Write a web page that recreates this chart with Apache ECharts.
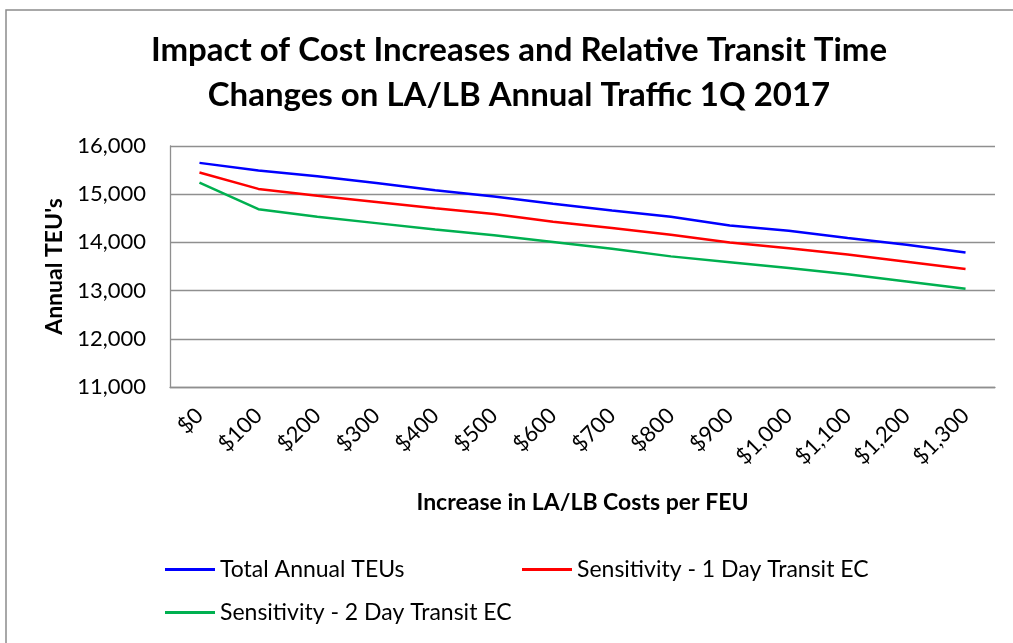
<!DOCTYPE html>
<html>
<head>
<meta charset="utf-8">
<title>Impact of Cost Increases</title>
<script src="https://cdn.jsdelivr.net/npm/echarts@6/dist/echarts.min.js"></script>
<style>
  html, body { margin: 0; padding: 0; background: #fff; }
  #chart { width: 1013px; height: 643px; }
</style>
</head>
<body>
<div id="chart"></div>
<script>
// categories - increase in LA/LB costs per FEU
const costLabels = ['$0', '$100', '$200', '$300', '$400', '$500', '$600',
  '$700', '$800', '$900', '$1,000', '$1,100', '$1,200', '$1,300'];

// annual TEU's
const totalTeus = [15650, 15490, 15370, 15230, 15080, 14950, 14800,
  14660, 14530, 14350, 14240, 14090, 13950, 13790];
const oneDayTransit = [15450, 15110, 14970, 14840, 14710, 14590, 14430,
  14300, 14160, 14000, 13880, 13750, 13600, 13450];
const twoDayTransit = [15240, 14690, 14530, 14400, 14270, 14150, 14010,
  13870, 13710, 13590, 13470, 13340, 13190, 13040];

const font = 'Lato, "Liberation Sans", sans-serif';
const gridGray = '#8f8f8f';

const myChart = echarts.init(document.getElementById('chart'));

const option = {
  backgroundColor: '#fff',
  animation: false,
  title: {
    text: 'Impact of Cost Increases and Relative Transit Time\nChanges on LA/LB Annual Traffic 1Q 2017',
    left: 514,
    textAlign: 'center',
    top: 23,
    textStyle: {
      fontFamily: font,
      fontWeight: 'bold',
      fontSize: 33,
      lineHeight: 45,
      color: '#000'
    }
  },
  // outer chart border
  graphic: [{
    type: 'rect',
    shape: { x: 6, y: 10, width: 1200, height: 800 },
    style: { fill: 'none', stroke: '#8c8c8c', lineWidth: 1.5 },
    silent: true
  }],
  legend: [
    {
      data: ['Total Annual TEUs'],
      left: 165, top: 558
    },
    {
      data: ['Sensitivity - 1 Day Transit EC'],
      left: 522, top: 558
    },
    {
      data: ['Sensitivity - 2 Day Transit EC'],
      left: 165, top: 601
    }
  ].map(l => Object.assign(l, {
    icon: 'rect',
    padding: 0,
    itemWidth: 50,
    itemHeight: 3,
    itemGap: 0,
    textStyle: { fontFamily: font, fontSize: 23, color: '#000' }
  })),
  grid: {
    left: 170,
    right: 18,
    top: 146,
    bottom: 256
  },
  xAxis: {
    type: 'category',
    data: costLabels,
    name: 'Increase in LA/LB Costs per FEU',
    nameLocation: 'middle',
    nameGap: 104,
    nameTextStyle: { fontFamily: font, fontWeight: 'bold', fontSize: 23, color: '#000' },
    axisLine: { lineStyle: { color: gridGray, width: 1.3 } },
    axisTick: { show: false },
    axisLabel: {
      rotate: 45,
      interval: 0,
      margin: 25,
      fontFamily: font,
      fontSize: 22,
      color: '#000'
    }
  },
  yAxis: {
    type: 'value',
    min: 11000,
    max: 16000,
    interval: 1000,
    name: "Annual TEU's",
    nameLocation: 'middle',
    nameRotate: 90,
    nameGap: 104,
    nameTextStyle: { fontFamily: font, fontWeight: 'bold', fontSize: 23, color: '#000' },
    axisLine: { show: true, lineStyle: { color: gridGray, width: 1.3 } },
    axisTick: { show: false },
    splitLine: { lineStyle: { color: gridGray, width: 1.3 } },
    axisLabel: {
      margin: 24,
      fontFamily: font,
      fontSize: 22,
      color: '#000',
      formatter: v => v.toLocaleString('en-US')
    }
  },
  series: [
    {
      name: 'Total Annual TEUs',
      type: 'line',
      data: totalTeus,
      color: '#0000ff',
      symbol: 'none',
      lineStyle: { width: 2.5 }
    },
    {
      name: 'Sensitivity - 1 Day Transit EC',
      type: 'line',
      data: oneDayTransit,
      color: '#ff0000',
      symbol: 'none',
      lineStyle: { width: 2.5 }
    },
    {
      name: 'Sensitivity - 2 Day Transit EC',
      type: 'line',
      data: twoDayTransit,
      color: '#00b050',
      symbol: 'none',
      lineStyle: { width: 2.5 }
    }
  ]
};

myChart.setOption(option);
window.onresize = function () {
  myChart.resize();
};
</script>
</body>
</html>
